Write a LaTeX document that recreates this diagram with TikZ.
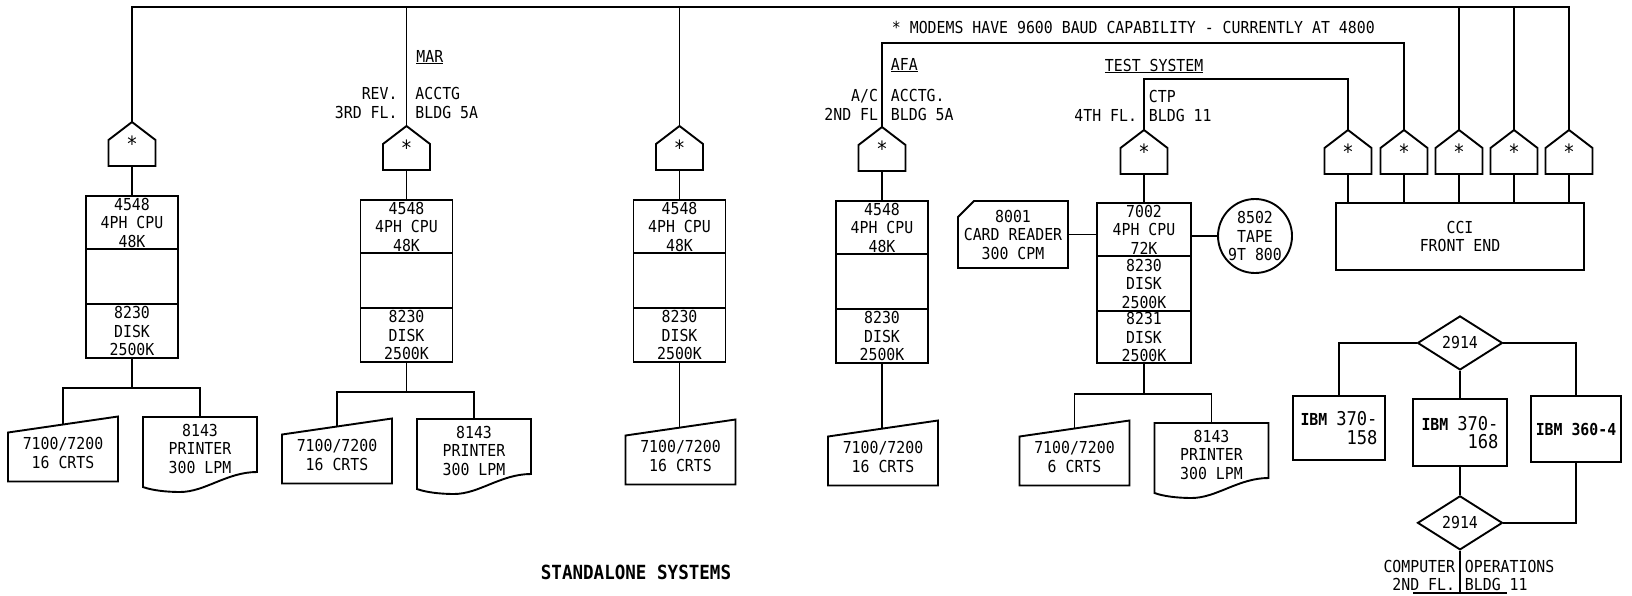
\documentclass[tikz,border=0pt]{standalone}
\usepackage{fontspec}
\setmainfont{DejaVu Sans Mono}[FakeStretch=0.9]
\usetikzlibrary{positioning,shapes.geometric}

\begin{document}
\begin{tikzpicture}[x=1pt, y=-1pt, line width=1.9pt,
  font=\fontsize{16.5}{18.5}\selectfont,
  box/.style={draw, outer sep=0pt, inner sep=0pt, align=center, minimum width=92pt},
  modem/.style={minimum width=47pt, minimum height=44pt, inner sep=0pt, outer sep=0pt, font=\fontsize{21}{21}\selectfont},
  crt/.style={minimum width=110pt, minimum height=57pt, inner sep=0pt, outer sep=0pt, align=center},
  prn/.style={minimum width=114pt, minimum height=63pt, inner sep=0pt, outer sep=0pt, align=center},
  lbl/.style={inner sep=0pt, align=left},
  sw/.style={draw, diamond, minimum width=85pt, minimum height=54pt, inner sep=0pt}]
\useasboundingbox (0,0) rectangle (1632,595);

% standalone systems
\foreach \i/\x/\y in {1/132/196,2/406.5/200,3/679.5/200,4/882/201} {
  \node[box, minimum height=53pt, anchor=north] (c\i) at (\x,\y) {4548\\4PH CPU\\48K};
  \node[box, minimum height=55pt, below=0pt of c\i] (b\i) {};
  \node[box, minimum height=54pt, below=0pt of b\i] (d\i) {8230\\DISK\\2500K};
  \node[modem, above=30pt of c\i] (m\i) {*};
  \draw (m\i.south) -- (c\i.north);
}

% test system
\node[box, minimum width=94pt, minimum height=53pt, anchor=north] (c5) at (1144,203) {7002\\4PH CPU\\72K};
\node[box, minimum width=94pt, minimum height=55pt, below=0pt of c5] (d5) {8230\\DISK\\2500K};
\node[box, minimum width=94pt, minimum height=52pt, below=0pt of d5] (e5) {8231\\DISK\\2500K};
\node[modem, above=29pt of c5] (m5) {*};
\draw (m5.south) -- (c5.north);
\node[minimum width=110pt, minimum height=67pt, inner sep=0pt, outer sep=0pt, align=center, anchor=east] (rdr) at (1068,234.5) {8001\\CARD READER\\300 CPM};
\draw (rdr.south west) -- ([yshift=-16pt]rdr.north west) -- ([xshift=16pt]rdr.north west) -- (rdr.north east) -- (rdr.south east) -- cycle;
\node[draw, circle, minimum size=74pt, inner sep=0pt, align=center] (tape) at (1255,236) {8502\\TAPE\\9T 800};
\draw (rdr) -- (rdr -| c5.west);
\draw (tape.west) -- (tape.west -| c5.east);

% terminals and printers
\node[crt] (t1) at (63,453) {7100/7200\\16 CRTS};
\node[prn] (p1) at (200,448.5) {8143\\PRINTER\\300 LPM};
\node[crt] (t2) at (337,455) {7100/7200\\16 CRTS};
\node[prn] (p2) at (474,450.5) {8143\\PRINTER\\300 LPM};
\node[crt] (t3) at (680.5,456) {7100/7200\\16 CRTS};
\node[crt] (t4) at (883,457) {7100/7200\\16 CRTS};
\node[crt] (t5) at (1074.5,457) {7100/7200\\6 CRTS};
\node[prn] (p5) at (1211.5,454.5) {8143\\PRINTER\\300 LPM};
\foreach \t in {t1,t2,t3,t4,t5}
  \draw (\t.south west) -- ([yshift=-8pt]\t.north west) -- ([yshift=8pt]\t.north east) -- (\t.south east) -- cycle;
\foreach \p in {p1,p2,p5}
  \draw (\p.north west) -- (\p.north east) -- ([yshift=8pt]\p.south east)
    .. controls +(-30,0) and +(25,0) .. ([xshift=-20pt,yshift=-12pt]\p.south)
    .. controls +(-15,0) and +(8,3) .. ([yshift=-7pt]\p.south west) -- cycle;

\draw (d1.south) -- ++(0,30) coordinate (j1);
\draw (t1.north) |- (j1) -| (p1.north);
\draw (d2.south) -- ++(0,30) coordinate (j2);
\draw (t2.north) |- (j2) -| (p2.north);
\draw (e5.south) -- ++(0,31) coordinate (j5);
\draw (t5.north) |- (j5) -| (p5.north);
\draw (d3.south) -- (d3.south |- t3.north);
\draw (d4.south) -- (d4.south |- t4.north);

% front end
\node[box, minimum width=248pt, minimum height=67pt, anchor=north] (cci) at (1460,203) {CCI\\FRONT END};
\foreach \i/\dx in {1/-112pt,2/-56pt,3/-1pt,4/54pt,5/109pt} {
  \node[modem, above=29pt of cci, xshift=\dx] (cm\i) {*};
  \draw (cm\i.south) -- (cm\i.south |- cci.north);
}
\foreach \m in {m1,m2,m3,m4,m5,cm1,cm2,cm3,cm4,cm5}
  \draw (\m.south west) -- ([yshift=26pt]\m.south west) -- (\m.north) -- ([yshift=26pt]\m.south east) -- (\m.south east) -- cycle;

\node[sw, below=45pt of cci] (sw1) {2914};
\node[box, minimum width=94pt, minimum height=67pt, below=28pt of sw1, align=right] (i2) {\textbf{IBM} {\fontsize{19}{21}\selectfont 370-}\\{\fontsize{19}{21}\selectfont 168}};
\node[box, minimum height=64pt, anchor=north, align=right] (i1) at (1339,396) {\textbf{IBM} {\fontsize{19}{21}\selectfont 370-}\\{\fontsize{19}{21}\selectfont 158}};
\node[box, minimum width=90pt, minimum height=66pt, anchor=north] (i3) at (1576,396) {\textbf{IBM 360-4}};
\node[sw, below=29pt of i2] (sw2) {2914};
\draw (sw1.west) -| (i1.north);
\draw (sw1.east) -| (i3.north);
\draw (sw1.south) -- (i2.north);
\draw (i2.south) -- (sw2.north);
\draw (i3.south) |- (sw2.east);
\coordinate (opsL) at (1413,593);
\coordinate (opsR) at (1507,593);
\draw (opsL) -- (opsR);
\draw (sw2.south) -- (sw2.south |- opsL);

% lines to the modems
\coordinate (bus) at (0,7);
\coordinate (afa) at (0,43);
\coordinate (tst) at (0,79);
\draw (m1.north) |- (bus -| cm5.north) -- (cm5.north);
\foreach \m in {m2,m3,cm3,cm4} \draw (\m.north) -- (\m.north |- bus);
\draw (m4.north) |- (afa -| cm2.north) -- (cm2.north);
\draw (m5.north) |- (tst -| cm1.north) -- (cm1.north);

% labels
\node[lbl, anchor=west] (note) at (891,27) {* MODEMS HAVE 9600 BAUD CAPABILITY - CURRENTLY AT 4800};
\node[lbl, anchor=west, xshift=9pt] (mar) at (m2.north |- 0,57) {\underline{MAR}};
\node[lbl, anchor=west, xshift=8pt] (mar1) at (m2.north |- 0,103) {ACCTG\\BLDG 5A};
\node[lbl, anchor=east, xshift=-8pt, align=right] (mar2) at (m2.north |- 0,103) {REV.\\3RD FL.};
\node[lbl, anchor=west, xshift=8pt] (afa0) at (m4.north |- 0,65) {\underline{AFA}};
\node[lbl, anchor=west, xshift=8pt] (afa1) at (m4.north |- 0,105) {ACCTG.\\BLDG 5A};
\node[lbl, anchor=east, xshift=-3pt, align=right] (afa2) at (m4.north |- 0,105) {A/C\\2ND FL};
\node[lbl, anchor=west] (tst0) at (1104,66) {\underline{TEST SYSTEM}};
\node[lbl, anchor=west, xshift=4pt] (tst1) at (m5.north |- 0,106) {CTP\\BLDG 11};
\node[lbl, anchor=east, xshift=-6pt] (tst2) at (m5.north |- 0,115) {4TH FL.};
\node[lbl, anchor=east, xshift=-4pt, align=right] (ops1) at (sw2.south |- 0,575.5) {COMPUTER\\2ND FL.};
\node[lbl, anchor=west, xshift=4pt] (ops2) at (sw2.south |- 0,575.5) {OPERATIONS\\BLDG 11};
\node[font=\fontsize{19.5}{22}\selectfont\bfseries] (ttl) at (636,572) {STANDALONE SYSTEMS};
\end{tikzpicture}
\end{document}
